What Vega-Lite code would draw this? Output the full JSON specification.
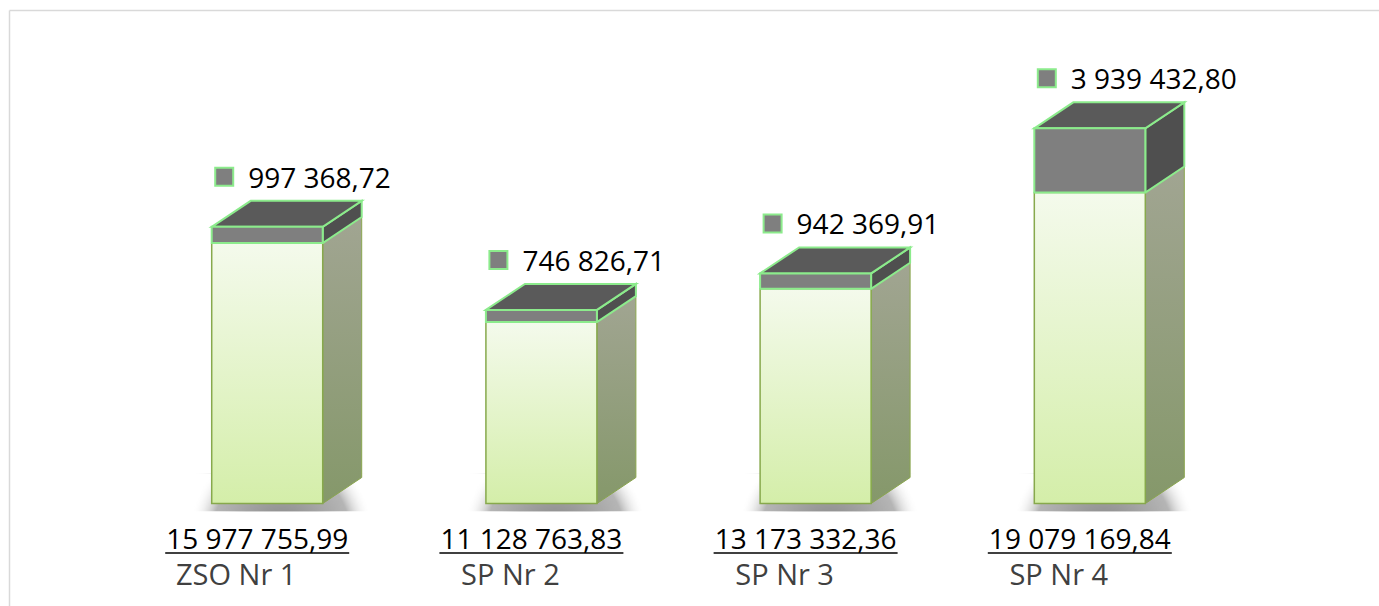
{
  "$schema": "https://vega.github.io/schema/vega-lite/v6.json",
  "width": 1370,
  "height": 596,
  "padding": {"left": 9, "top": 10, "right": 0, "bottom": 0},
  "autosize": {"type": "none"},
  "background": "white",
  "config": {
    "view": {"stroke": null},
    "locale": {"number": {"decimal": ",", "thousands": " ", "grouping": [3], "currency": ["", " zł"]}},
    "text": {"font": "Open Sans"},
    "axis": {"domain": true, "domainColor": "#d9d9d9", "domainWidth": 1.5, "labels": false, "ticks": false, "grid": false}
  },
  "data": {
    "values": [
      {"cat": "ZSO Nr 1", "series": "plan", "value": 15977755.99},
      {"cat": "ZSO Nr 1", "series": "zmiana", "value": 997368.72},
      {"cat": "SP Nr 2", "series": "plan", "value": 11128763.83},
      {"cat": "SP Nr 2", "series": "zmiana", "value": 746826.71},
      {"cat": "SP Nr 3", "series": "plan", "value": 13173332.36},
      {"cat": "SP Nr 3", "series": "zmiana", "value": 942369.91},
      {"cat": "SP Nr 4", "series": "plan", "value": 19079169.84},
      {"cat": "SP Nr 4", "series": "zmiana", "value": 3939432.80}
    ]
  },
  "transform": [
    {"stack": "value", "groupby": ["cat"], "sort": [{"field": "series", "order": "ascending"}], "as": ["y0", "y1"]}
  ],
  "encoding": {
    "x": {"field": "cat", "type": "nominal", "scale": {"type": "band", "domain": ["ZSO Nr 1", "SP Nr 2", "SP Nr 3", "SP Nr 4"], "paddingInner": 0.5952, "paddingOuter": 0.7958, "align": 0.4645}, "axis": {"orient": "top", "title": null}}
  },
  "layer": [
    {
      "transform": [{"filter": "datum.series == 'plan'"}, {"fold": ["s1", "s2"], "as": ["corner", "cv"]}],
      "mark": {
        "type": "area",
        "xOffset": {"expr": "datum.corner == 's1' ? -bandwidth('x') / 2 - 22 : bandwidth('x') / 2 + 50"},
        "yOffset": -30,
        "y2Offset": 8,
        "color": {"gradient": "radial", "x1": 0.5, "y1": 0.72, "r1": 0, "x2": 0.5, "y2": 0.72, "r2": 0.5, "stops": [{"offset": 0, "color": "rgba(90,90,90,0.75)"}, {"offset": 0.75, "color": "rgba(120,120,120,0.55)"}, {"offset": 1, "color": "rgba(255,255,255,0)"}]}
      },
      "encoding": {
        "y": {"field": "y0", "type": "quantitative", "scale": {"domain": [-6288000, 30276000], "nice": false, "zero": false}, "axis": {"orient": "left", "title": null}},
        "y2": {"field": "y0"},
        "detail": {"field": "cat"}
      }
    },
    {
      "transform": [{"filter": "datum.series == 'plan'"}, {"fold": ["s1", "s2"], "as": ["corner", "cv"]}],
      "mark": {
        "type": "area",
        "xOffset": {"expr": "datum.corner == 's2' ? bandwidth('x') / 2 + 39 : bandwidth('x') / 2"},
        "yOffset": {"expr": "datum.corner == 's2' ? -26 : 0"},
        "y2Offset": {"expr": "datum.corner == 's2' ? -26 : 0"},
        "color": {"gradient": "linear", "x1": 0, "y1": 0, "x2": 0, "y2": 1, "stops": [{"offset": 0, "color": "#a1a592"}, {"offset": 1, "color": "#85986a"}]},
        "stroke": "#8aa64e",
        "strokeWidth": 1
      },
      "encoding": {
        "y": {"field": "y1", "type": "quantitative", "scale": {"domain": [-6288000, 30276000], "nice": false, "zero": false}, "axis": {"orient": "left", "title": null}},
        "y2": {"field": "y0"},
        "detail": {"field": "cat"}
      }
    },
    {
      "transform": [{"filter": "datum.series == 'zmiana'"}, {"fold": ["s1", "s2"], "as": ["corner", "cv"]}],
      "mark": {
        "type": "area",
        "xOffset": {"expr": "datum.corner == 's2' ? bandwidth('x') / 2 + 39 : bandwidth('x') / 2"},
        "yOffset": {"expr": "datum.corner == 's2' ? -26 : 0"},
        "y2Offset": {"expr": "datum.corner == 's2' ? -26 : 0"},
        "color": "#4f4f4f",
        "stroke": "#8ceb8c",
        "strokeWidth": 2
      },
      "encoding": {
        "y": {"field": "y1", "type": "quantitative", "scale": {"domain": [-6288000, 30276000], "nice": false, "zero": false}, "axis": {"orient": "left", "title": null}},
        "y2": {"field": "y0"},
        "detail": {"field": "cat"}
      }
    },
    {
      "transform": [{"filter": "datum.series == 'zmiana'"}, {"fold": ["c1", "c2", "c3", "c4"], "as": ["corner", "cv"]}],
      "mark": {
        "type": "area",
        "xOffset": {"expr": "datum.corner == 'c1' ? -bandwidth('x') / 2 : datum.corner == 'c2' ? -bandwidth('x') / 2 + 39 : datum.corner == 'c3' ? bandwidth('x') / 2 : bandwidth('x') / 2 + 39"},
        "yOffset": {"expr": "datum.corner == 'c1' ? 0 : -26"},
        "y2Offset": {"expr": "datum.corner == 'c4' ? -26 : 0"},
        "color": "#5a5a5a",
        "stroke": "#8ceb8c",
        "strokeWidth": 2
      },
      "encoding": {
        "y": {"field": "y1", "type": "quantitative", "scale": {"domain": [-6288000, 30276000], "nice": false, "zero": false}, "axis": {"orient": "left", "title": null}},
        "y2": {"field": "y1"},
        "detail": {"field": "cat"}
      }
    },
    {
      "transform": [{"filter": "datum.series == 'plan'"}],
      "mark": {
        "type": "bar",
        "color": {"gradient": "linear", "x1": 0, "y1": 0, "x2": 0, "y2": 1, "stops": [{"offset": 0, "color": "#f4faec"}, {"offset": 1, "color": "#d4eea9"}]},
        "stroke": "#87a94c",
        "strokeWidth": 1.5
      },
      "encoding": {
        "y": {"field": "y1", "type": "quantitative", "scale": {"domain": [-6288000, 30276000], "nice": false, "zero": false}, "axis": {"orient": "left", "title": null}},
        "y2": {"field": "y0"}
      }
    },
    {
      "transform": [{"filter": "datum.series == 'zmiana'"}],
      "mark": {"type": "bar", "color": "#7f7f7f", "stroke": "#8ceb8c", "strokeWidth": 2},
      "encoding": {
        "y": {"field": "y1", "type": "quantitative", "scale": {"domain": [-6288000, 30276000], "nice": false, "zero": false}, "axis": {"orient": "left", "title": null}},
        "y2": {"field": "y0"}
      }
    },
    {
      "transform": [{"filter": "datum.series == 'plan'"}],
      "mark": {"type": "text", "fontSize": 28, "color": "#000000", "align": "center", "baseline": "alphabetic", "dx": -10, "dy": 45.5},
      "encoding": {
        "y": {"field": "y0", "type": "quantitative", "scale": {"domain": [-6288000, 30276000], "nice": false, "zero": false}, "axis": {"orient": "left", "title": null}},
        "text": {"field": "value", "type": "quantitative", "format": ",.2f"}
      }
    },
    {
      "transform": [{"filter": "datum.series == 'plan'"}],
      "mark": {"type": "tick", "color": "#000000", "size": 184, "thickness": 1.5, "xOffset": -10, "yOffset": 49.5, "opacity": 1},
      "encoding": {
        "y": {"field": "y0", "type": "quantitative", "scale": {"domain": [-6288000, 30276000], "nice": false, "zero": false}, "axis": {"orient": "left", "title": null}}
      }
    },
    {
      "transform": [{"filter": "datum.series == 'plan'"}],
      "mark": {"type": "text", "fontSize": 29, "color": "#404040", "align": "center", "baseline": "alphabetic", "dx": -31, "dy": 81},
      "encoding": {
        "y": {"field": "y0", "type": "quantitative", "scale": {"domain": [-6288000, 30276000], "nice": false, "zero": false}, "axis": {"orient": "left", "title": null}},
        "text": {"field": "cat", "type": "nominal"}
      }
    },
    {
      "transform": [{"filter": "datum.series == 'zmiana'"}],
      "mark": {"type": "point", "shape": "square", "filled": true, "size": 324, "color": "#7f7f7f", "stroke": "#8ceb8c", "strokeWidth": 2, "opacity": 1, "xOffset": -43, "yOffset": -50},
      "encoding": {
        "y": {"field": "y1", "type": "quantitative", "scale": {"domain": [-6288000, 30276000], "nice": false, "zero": false}, "axis": {"orient": "left", "title": null}}
      }
    },
    {
      "transform": [{"filter": "datum.series == 'zmiana'"}],
      "mark": {"type": "text", "fontSize": 28, "color": "#000000", "align": "left", "baseline": "alphabetic", "dx": -19, "dy": -39},
      "encoding": {
        "y": {"field": "y1", "type": "quantitative", "scale": {"domain": [-6288000, 30276000], "nice": false, "zero": false}, "axis": {"orient": "left", "title": null}},
        "text": {"field": "value", "type": "quantitative", "format": ",.2f"}
      }
    }
  ]
}
